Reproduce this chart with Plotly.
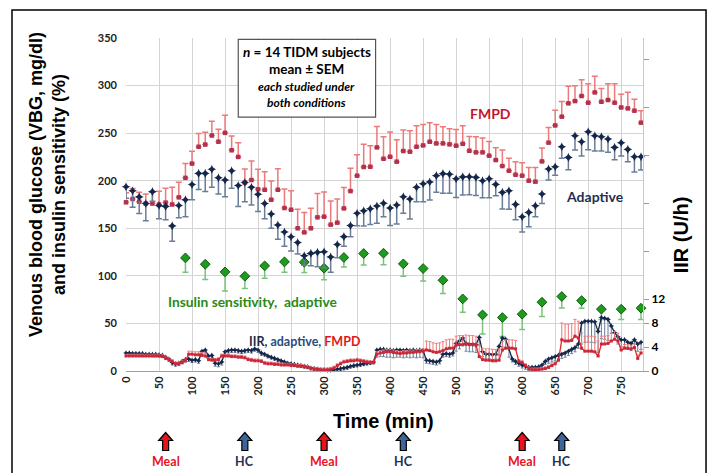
import plotly.graph_objects as go

# ---------------- data ----------------
t_glu = list(range(0, 790, 10))
vbg_adaptive = [193.7, 189.5, 183, 176, 188.5, 174, 173, 152.5, 174, 180,
                196, 207.7, 207.7, 212, 203, 200.7, 210.5, 195, 198, 193,
                185.7, 176, 165, 153.5, 146, 141, 135, 121.2, 123.6, 124.7,
                125.4, 119.8, 133, 141.2, 153, 165.7, 168.5, 170.6, 173.4, 176.2,
                171.3, 174.4, 183.2, 180.7, 193, 196.8, 198.6, 205.3, 207.4, 206.7,
                202, 204, 204.2, 203.5, 200, 202.1, 196.1, 187.7, 189.5, 175.1,
                162.2, 166.7, 173.7, 186, 212.3, 214.7, 235.7, 224.5, 247.3, 241,
                251.5, 247.3, 246.2, 243.8, 235, 239.9, 232.9, 225.2, 225.2]
vbg_adaptive_sem = [12, 17.5, 17.5, 18, 10, 14, 14, 16, 13, 18,
                    16, 17, 19, 19, 17, 17.5, 18.5, 22, 20, 18.5,
                    18, 16, 15, 15, 15, 15, 12, 10, 13, 15,
                    17, 16, 14, 10, 12, 13, 16, 16.5, 18, 14,
                    18.5, 20, 17.5, 21, 15, 19, 19, 17.5, 20.7, 20,
                    19.6, 19, 19, 19, 18, 20, 12, 17.5, 19.6, 16,
                    16, 15, 11.6, 10, 11.6, 9, 12, 13, 15, 15,
                    19, 16, 15, 14, 13, 14, 13, 16, 14]
vbg_fmpd = [177.3, 180.8, 178, 176, 176, 175, 177, 175, 182.5, 203,
            218, 235.7, 238, 247.5, 241, 250.3, 232, 225, 198, 200.7,
            191, 190.5, 180, 190.5, 171.3, 169.5, 150, 145.7, 150, 161.5,
            162.2, 153.8, 155.9, 170.9, 189.1, 205.3, 214.4, 214.7, 235, 223.1,
            225.2, 220, 231.2, 230.5, 235.7, 237.1, 241, 239.2, 239.2, 238.2,
            236.8, 238.8, 231.5, 229.8, 229.8, 226.3, 221.7, 215.4, 210.5, 206.3,
            205.3, 200, 199, 220.3, 240, 258.1, 267.3, 281.3, 283.7, 289,
            282, 292.8, 283, 284.8, 282, 277, 276, 273.6, 261]
vbg_fmpd_sem = [10, 11, 10, 10, 12, 14, 15, 18, 16, 15,
                13, 14, 13, 15, 13, 18.5, 15, 15, 14.3, 20,
                21, 19, 19.6, 22, 20, 20, 20, 21, 21, 25,
                26, 25, 25, 22, 24, 22, 24, 22, 22, 23,
                26, 23, 22, 22, 22, 22, 20, 20, 17.5, 16.5,
                17, 19, 15, 16.5, 15, 15, 13, 17, 13, 13.7,
                13.7, 14, 15, 14, 15.8, 16, 16, 18, 16, 17,
                20, 17, 14, 17, 20, 14, 17, 12, 12.6]

t_si = list(range(90, 790, 30))
si_adaptive = [118.9, 112.2, 104.2, 99.6, 110.5, 114.7, 114.4, 108, 119.3, 123.5,
               123.8, 112.6, 107.7, 95.4, 75.8, 59, 56.2, 59.7, 72.3, 78.3,
               74, 65, 65, 66]
si_adaptive_sem = [15, 16, 20, 13, 13, 11, 11, 12, 10, 12,
                   12, 13, 13, 14, 14, 20, 20, 16, 15, 12,
                   8, 11, 11, 12]

t_iir = list(range(0, 785, 5))
iir_adaptive = [3.0, 3.0, 2.9, 2.9, 2.9, 2.9, 2.8, 2.8, 2.8, 2.8,
                2.7, 2.6, 2.3, 2.0, 1.4, 1.2, 1.3, 1.6, 1.9, 2.0,
                1.8, 1.9, 1.7, 3.3, 3.5, 2.5, 2.6, 1.3, 1.2, 1.5,
                3.2, 3.4, 3.5, 3.5, 3.4, 3.3, 3.4, 3.5, 3.4, 3.7,
                3.5, 3.0, 2.8, 2.5, 2.3, 2.1, 1.9, 1.7, 1.5, 1.3,
                1.2, 1.1, 1.0, 0.9, 0.8, 0.7, 0.5, 0.4, 0.3, 0.2,
                0.2, 0.15, 0.15, 0.2, 0.3, 0.4, 0.5, 0.6, 0.8, 0.9,
                1.0, 1.1, 1.2, 1.3, 1.4, 1.5, 3.5, 3.6, 3.6, 3.5,
                3.5, 3.4, 3.5, 3.5, 3.4, 3.5, 3.4, 3.5, 3.4, 3.5,
                3.4, 1.8, 1.7, 1.6, 1.5, 1.7, 2.8, 2.9, 2.8, 3.0,
                4.6, 5.0, 5.5, 4.6, 4.5, 4.5, 4.4, 5.6, 3.2, 2.8,
                2.8, 2.7, 2.8, 4.1, 5.5, 5.3, 3.8, 2.0, 1.6, 1.3,
                1.0, 0.8, 0.6, 0.6, 0.6, 0.7, 1.0, 1.6, 2.0, 2.2,
                2.4, 2.6, 2.8, 3.0, 3.3, 3.6, 3.9, 4.5, 8.0, 8.3,
                8.3, 8.3, 8.2, 6.6, 8.9, 8.8, 8.6, 7.5, 6.4, 5.7,
                5.2, 5.2, 4.8, 4.6, 5.2, 4.5, 4.8]
iir_adaptive_sem = [0.3, 0.3, 0.3, 0.3, 0.3, 0.3, 0.3, 0.3, 0.3, 0.3,
                    0.3, 0.3, 0.4, 0.4, 0.4, 0.4, 0.4, 0.4, 0.4, 0.4,
                    0.4, 0.4, 0.4, 0.5, 0.5, 0.5, 0.5, 0.5, 0.5, 0.5,
                    0.5, 0.4, 0.4, 0.4, 0.4, 0.4, 0.4, 0.4, 0.4, 0.4,
                    0.4, 0.4, 0.3, 0.3, 0.3, 0.3, 0.3, 0.3, 0.3, 0.3,
                    0.3, 0.3, 0.3, 0.3, 0.3, 0.3, 0.3, 0.3, 0.3, 0.3,
                    0.3, 0.3, 0.3, 0.3, 0.3, 0.3, 0.3, 0.3, 0.3, 0.3,
                    0.3, 0.3, 0.3, 0.3, 0.3, 0.3, 1.2, 1.2, 1.2, 1.2,
                    1.2, 1.2, 1.2, 1.2, 1.2, 1.2, 1.2, 1.2, 1.2, 1.2,
                    1.2, 0.5, 0.5, 0.5, 0.5, 0.5, 0.5, 0.5, 0.5, 0.5,
                    1.3, 1.3, 1.3, 1.3, 1.3, 1.3, 1.3, 1.3, 0.8, 0.8,
                    0.8, 0.8, 0.8, 1.5, 1.5, 1.5, 1.5, 0.5, 0.5, 0.5,
                    0.5, 0.5, 0.5, 0.5, 0.5, 0.5, 0.5, 0.5, 0.7, 0.7,
                    0.7, 0.7, 0.7, 0.7, 0.7, 0.7, 0.7, 0.7, 3.5, 3.5,
                    3.5, 3.5, 3.5, 3.5, 3.5, 3.5, 3.5, 1.2, 1.2, 1.2,
                    1.2, 1.2, 1.2, 1.2, 1.2, 1.2, 1.2]
iir_fmpd = [2.5, 2.5, 2.5, 2.5, 2.5, 2.5, 2.5, 2.5, 2.5, 2.5,
            2.5, 2.4, 2.2, 1.9, 1.6, 1.2, 1.2, 1.4, 1.7, 2.8,
            2.8, 2.7, 2.7, 2.6, 2.5, 1.9, 1.8, 1.8, 1.9, 2.5,
            2.5, 2.5, 2.4, 2.4, 2.3, 2.3, 2.2, 1.9, 1.8, 1.7,
            1.7, 1.6, 1.3, 1.2, 1.2, 1.1, 1.1, 1.0, 1.0, 1.0,
            0.9, 0.9, 0.8, 0.8, 0.7, 0.6, 0.4, 0.3, 0.3, 0.2,
            0.2, 0.2, 0.3, 0.5, 0.9, 1.2, 1.5, 1.6, 1.7, 1.7,
            1.8, 1.7, 1.6, 1.5, 1.4, 1.4, 2.8, 3.0, 3.1, 3.2,
            3.2, 3.1, 3.0, 2.9, 3.0, 3.0, 3.1, 3.1, 3.2, 3.2,
            3.3, 3.5, 3.4, 3.2, 3.1, 3.2, 3.4, 3.7, 3.8, 3.8,
            4.3, 4.4, 4.4, 4.5, 4.4, 4.4, 4.3, 2.4, 1.9, 1.8,
            1.8, 1.7, 1.7, 1.8, 3.5, 3.8, 3.8, 3.8, 3.7, 1.6,
            1.4, 0.9, 0.4, 0.2, 0.2, 0.2, 0.3, 0.4, 0.6, 0.9,
            1.2, 1.8, 5.2, 5.0, 5.0, 5.1, 5.8, 5.5, 3.8, 3.3,
            3.3, 3.3, 3.2, 2.5, 4.5, 4.5, 4.6, 5.0, 5.3, 5.0,
            3.5, 3.8, 3.8, 3.7, 3.9, 2.1, 3.0]
iir_fmpd_sem = [0.3, 0.3, 0.3, 0.3, 0.3, 0.3, 0.3, 0.3, 0.3, 0.3,
                0.3, 0.3, 0.3, 0.3, 0.3, 0.3, 0.3, 0.3, 0.3, 0.5,
                0.5, 0.5, 0.5, 0.5, 0.5, 0.3, 0.3, 0.3, 0.3, 0.3,
                0.3, 0.3, 0.3, 0.3, 0.3, 0.3, 0.3, 0.3, 0.3, 0.3,
                0.3, 0.3, 0.3, 0.3, 0.3, 0.3, 0.3, 0.3, 0.3, 0.3,
                0.3, 0.3, 0.3, 0.3, 0.3, 0.3, 0.3, 0.3, 0.3, 0.3,
                0.3, 0.3, 0.3, 0.3, 0.3, 0.3, 0.3, 0.3, 0.3, 0.3,
                0.3, 0.3, 0.3, 0.3, 0.3, 0.3, 0.4, 0.4, 0.4, 0.4,
                0.4, 0.4, 0.4, 0.4, 0.4, 0.4, 0.4, 0.4, 0.4, 0.4,
                0.4, 1.5, 1.5, 1.5, 1.5, 1.5, 1.5, 1.5, 1.5, 1.5,
                1.5, 1.5, 1.5, 1.5, 1.5, 1.5, 1.5, 1.9, 1.9, 1.9,
                1.9, 1.9, 1.9, 1.9, 1.4, 1.4, 1.4, 1.4, 1.4, 0.3,
                0.3, 0.3, 0.3, 0.3, 0.3, 0.3, 0.3, 0.3, 0.3, 0.3,
                0.3, 0.3, 2.8, 2.8, 2.8, 2.8, 2.8, 2.8, 2.5, 2.5,
                2.5, 2.5, 2.5, 2.5, 1.3, 1.3, 1.3, 1.3, 1.3, 1.3,
                0.6, 0.6, 0.6, 0.6, 0.6, 0.6, 0.6]

event_times = [60, 180, 300, 420, 600, 660]
event_labels = ["Meal", "HC", "Meal", "HC", "Meal", "HC"]

x_ticks = list(range(0, 800, 50))
y_ticks = list(range(0, 400, 50))
y2_ticks = [0, 4, 8, 12, 20, 28, 36, 44, 52]
y2_ticktext = ["0", "4", "8", "12", "", "", "", "", ""]

# ---------------- figure ----------------
NAVY = "#14264a"
NAVY_ERR = "#6a7d96"
CRIMSON = "#b0324e"
RED_ERR = "#ec7a7a"
GREEN = "#1e9a1e"
GREEN_ERR = "#7cc27c"
LATO = "Lato"
ARIAL = "Liberation Sans, Arial"

fig = go.Figure()

zeros_iir = [0 for _ in t_iir]
zeros_glu = [0 for _ in t_glu]
zeros_si = [0 for _ in t_si]

# IIR traces (right axis)
fig.add_trace(go.Scatter(
    x=t_iir, y=iir_adaptive, yaxis="y2", mode="lines+markers",
    line=dict(color=NAVY, width=1.3),
    marker=dict(symbol="star-diamond", size=4, color=NAVY),
    error_y=dict(type="data", symmetric=False, array=zeros_iir,
                 arrayminus=iir_adaptive_sem, color=NAVY_ERR, thickness=1, width=1.5),
    cliponaxis=False, showlegend=False))
fig.add_trace(go.Scatter(
    x=t_iir, y=iir_fmpd, yaxis="y2", mode="lines+markers",
    line=dict(color="#e02626", width=1.3),
    marker=dict(symbol="square", size=3, color="#c8283a"),
    error_y=dict(type="data", symmetric=False, array=iir_fmpd_sem,
                 arrayminus=zeros_iir, color=RED_ERR, thickness=1, width=1.5),
    cliponaxis=False, showlegend=False))

# Insulin sensitivity
fig.add_trace(go.Scatter(
    x=t_si, y=si_adaptive, mode="markers",
    marker=dict(symbol="diamond", size=7.5, color=GREEN, line=dict(color="#0b5e0b", width=1)),
    error_y=dict(type="data", symmetric=False, array=zeros_si,
                 arrayminus=si_adaptive_sem, color=GREEN_ERR, thickness=1.5, width=3),
    cliponaxis=False, showlegend=False))

# Glucose FMPD
fig.add_trace(go.Scatter(
    x=t_glu, y=vbg_fmpd, mode="markers",
    marker=dict(symbol="square", size=4.5, color=CRIMSON),
    error_y=dict(type="data", symmetric=False, array=vbg_fmpd_sem,
                 arrayminus=zeros_glu, color=RED_ERR, thickness=1.5, width=3),
    cliponaxis=False, showlegend=False))

# Glucose adaptive
fig.add_trace(go.Scatter(
    x=t_glu, y=vbg_adaptive, mode="markers",
    marker=dict(symbol="star-diamond", size=6.5, color=NAVY),
    error_y=dict(type="data", symmetric=False, array=zeros_glu,
                 arrayminus=vbg_adaptive_sem, color=NAVY_ERR, thickness=1.5, width=3),
    cliponaxis=False, showlegend=False))

shapes = []
annotations = []

# outer frame
shapes.append(dict(type="rect", xref="paper", yref="paper",
                   x0=-0.2205, x1=1.1219, y0=-0.40, y1=1.084,
                   line=dict(color="black", width=1.5), layer="above"))
# info box
shapes.append(dict(type="rect", xref="x", yref="y", x0=170, x1=378, y0=266.8, y1=348.5,
                   line=dict(color="#555555", width=1.2), fillcolor="white", layer="above"))

def ann(**kw):
    kw.setdefault("showarrow", False)
    kw.setdefault("xanchor", "center")
    kw.setdefault("yanchor", "middle")
    return kw

annotations += [
    ann(x=274, y=335.4, xref="x", yref="y",
        text="<b><i>n</i> = 14 TIDM subjects</b>", font=dict(family=LATO, size=13.5, color="black")),
    ann(x=274, y=317.6, xref="x", yref="y",
        text="<b>mean ± SEM</b>", font=dict(family=LATO, size=13.5, color="black")),
    ann(x=274, y=298.6, xref="x", yref="y",
        text="<b><i>each studied under</i></b>", font=dict(family=LATO, size=12, color="black")),
    ann(x=274, y=281.8, xref="x", yref="y",
        text="<b><i>both conditions</i></b>", font=dict(family=LATO, size=12, color="black")),
    ann(x=551.5, y=271, xref="x", yref="y",
        text="<b>FMPD</b>", font=dict(family=LATO, size=14, color="#c4162c")),
    ann(x=710, y=183, xref="x", yref="y",
        text="<b>Adaptive</b>", font=dict(family=LATO, size=14, color="#1f3050")),
    ann(x=192, y=73.5, xref="x", yref="y",
        text="<b>Insulin sensitivity,  adaptive</b>", font=dict(family=LATO, size=13.8, color="#2a8a1a")),
    ann(x=271, y=30.8, xref="x", yref="y",
        text="<b><span style='color:#1f2a40'>IIR, </span>"
             "<span style='color:#2a4a80'>adaptive, </span><span style='color:#e01a1a'>FMPD</span></b>",
        font=dict(family=LATO, size=12.5)),
    # axis titles
    ann(x=-0.152, y=0.56, xref="paper", yref="paper", textangle=-90,
        text="<b>Venous blood glucose (VBG, mg/dl)<br>and insulin sensitivity (%)</b>",
        font=dict(family=ARIAL, size=18, color="black")),
    ann(x=0.499, y=-0.15, xref="paper", yref="paper",
        text="<b>Time (min)</b>", font=dict(family=ARIAL, size=20, color="black")),
    ann(x=1.075, y=0.41, xref="paper", yref="paper", textangle=-90,
        text="<b>IIR (U/h)</b>", font=dict(family=ARIAL, size=20, color="black")),
]

for t, lab in zip(event_times, event_labels):
    col = "#e8141c" if lab == "Meal" else "#3d6599"
    txtcol = "#e8141c" if lab == "Meal" else "#1f3050"
    shapes.append(dict(type="path", xref="x", yref="paper",
                       xsizemode="pixel", ysizemode="pixel", xanchor=t, yanchor=-0.2117,
                       path="M 0 9 L 7 1 L 3 1 L 3 -9 L -3 -9 L -3 1 L -7 1 Z",
                       fillcolor=col, line=dict(color="black", width=1.2)))
    annotations.append(ann(x=t, y=-0.273, xref="x", yref="paper",
                           text="<b>%s</b>" % lab, font=dict(family=LATO, size=12.5, color=txtcol)))

tickfont = dict(family=LATO, size=11, color="#222222")

fig.update_layout(
    width=711, height=473,
    margin=dict(l=126, r=68, t=38, b=102),
    paper_bgcolor="white", plot_bgcolor="white",
    showlegend=False,
    shapes=shapes, annotations=annotations,
    xaxis=dict(range=[0, 783], tickvals=x_ticks,
               ticktext=["<b>%d</b>" % v for v in x_ticks], tickangle=-90,
               tickfont=tickfont,
               showgrid=True, gridcolor="#d4d4d4", gridwidth=1,
               zeroline=False, showline=True, linecolor="#a0a0a0", ticks=""),
    yaxis=dict(range=[0, 350], tickvals=y_ticks,
               ticktext=["<b>%d</b>" % v for v in y_ticks],
               tickfont=tickfont, ticklabelstandoff=8,
               showgrid=True, gridcolor="#d4d4d4", gridwidth=1,
               zeroline=False, showline=False, ticks="", ticklen=0),
    yaxis2=dict(range=[0, 55.5], overlaying="y", side="right",
                tickvals=y2_ticks, ticktext=["<b>%s</b>" % s if s else "" for s in y2_ticktext],
                tickfont=dict(family=LATO, size=12, color="black"),
                showgrid=False, zeroline=False, showline=True, linecolor="#c8c8c8",
                ticks="outside", ticklen=5, tickcolor="#999999"),
)

fig.write_html("out.html")
